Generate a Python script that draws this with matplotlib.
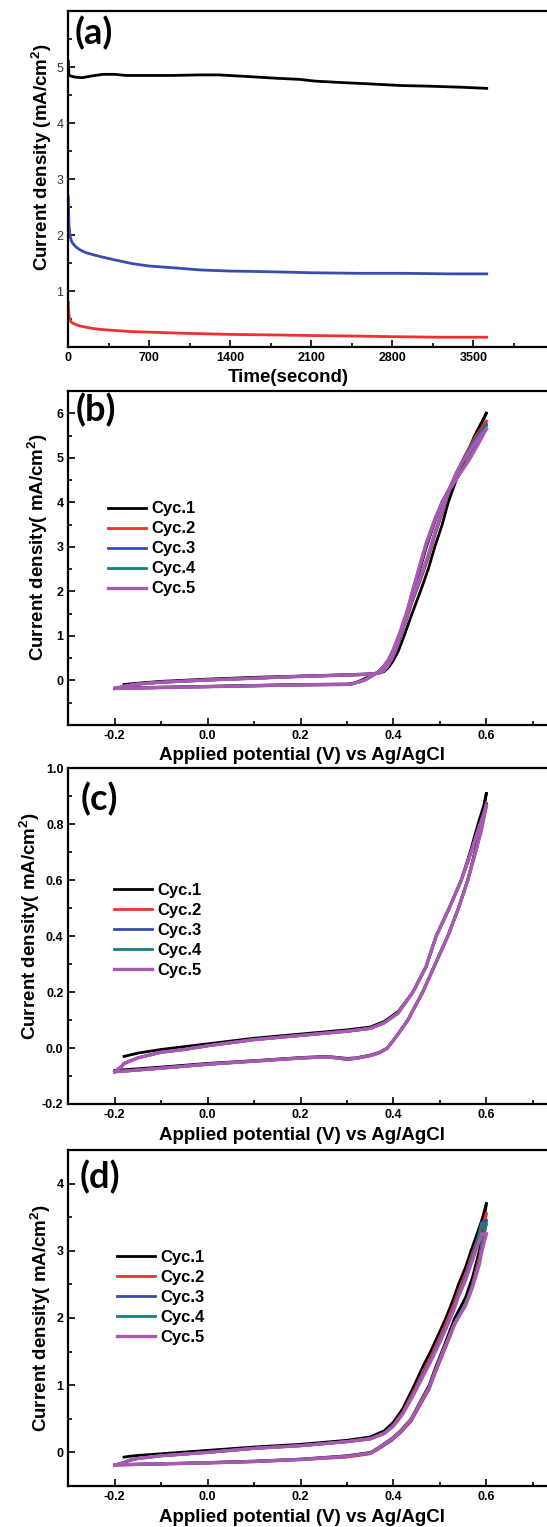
import matplotlib

matplotlib.use("Agg")
import matplotlib.pyplot as plt
import numpy as np
from matplotlib.ticker import MultipleLocator

plt.rcParams["font.family"] = ["Liberation Sans", "DejaVu Sans"]
plt.rcParams["mathtext.fontset"] = "custom"
plt.rcParams["mathtext.rm"] = "Liberation Sans:bold"
plt.rcParams["mathtext.bf"] = "Liberation Sans:bold"
plt.rcParams["axes.unicode_minus"] = False

# ---- (a) chronoamperometry ----
t_black = [0, 5, 20, 60, 120, 200, 300, 400, 500, 700, 900, 1138, 1300, 1556, 1800,
           2000, 2126, 2300, 2600, 2876, 3100, 3400, 3616]
j_black = [5.1, 4.86, 4.84, 4.82, 4.81, 4.84, 4.87, 4.87, 4.85, 4.85, 4.85, 4.86, 4.86,
           4.83, 4.80, 4.78, 4.75, 4.73, 4.70, 4.67, 4.66, 4.64, 4.62]
t_blue = [0, 5, 15, 30, 60, 100, 150, 200, 274, 400, 560, 700, 900, 1138, 1400, 1700,
          2100, 2500, 2900, 3300, 3616]
j_blue = [2.7, 2.2, 1.98, 1.88, 1.80, 1.74, 1.69, 1.66, 1.62, 1.56, 1.49, 1.45, 1.42,
          1.38, 1.36, 1.35, 1.33, 1.32, 1.32, 1.31, 1.31]
t_red = [0, 5, 15, 30, 60, 100, 200, 274, 400, 550, 700, 1000, 1400, 1800, 2100, 2500,
         2800, 3200, 3616]
j_red = [0.8, 0.58, 0.48, 0.44, 0.41, 0.38, 0.34, 0.32, 0.30, 0.28, 0.27, 0.25, 0.23,
         0.22, 0.21, 0.20, 0.19, 0.18, 0.18]

cycle_labels = ["Cyc.1", "Cyc.2", "Cyc.3", "Cyc.4", "Cyc.5"]
cycle_colors = ["#000000", "#ee3030", "#3a4cb0", "#148079", "#a85ab2"]

# ---- (b) CV ----
b_E_fwd = [-0.2, -0.18, -0.15, -0.1, 0.0, 0.1, 0.2, 0.3, 0.35, 0.37, 0.38, 0.39, 0.40,
           0.41, 0.423, 0.44, 0.458, 0.475, 0.489, 0.505, 0.518, 0.535, 0.554, 0.575, 0.6]
b_j_fwd = [
    [np.nan, -0.09, -0.06, -0.02, 0.03, 0.07, 0.10, 0.13, 0.15, 0.17, 0.2, 0.3, 0.45,
     0.65, 1.0, 1.5, 2.0, 2.5, 3.0, 3.5, 4.0, 4.5, 5.0, 5.5, 6.0],
    [-0.18, -0.13, -0.08, -0.04, 0.01, 0.05, 0.09, 0.12, 0.14, 0.17, 0.22, 0.35, 0.55,
     0.8, 1.2, 1.75, 2.25, 2.75, 3.25, 3.75, 4.2, 4.65, 5.05, 5.45, 5.82],
    [-0.18, -0.13, -0.08, -0.04, 0.01, 0.05, 0.09, 0.12, 0.14, 0.17, 0.22, 0.36, 0.56,
     0.82, 1.22, 1.78, 2.28, 2.78, 3.28, 3.78, 4.22, 4.65, 5.03, 5.4, 5.75],
    [-0.18, -0.13, -0.08, -0.04, 0.01, 0.05, 0.09, 0.12, 0.14, 0.17, 0.22, 0.36, 0.57,
     0.83, 1.23, 1.8, 2.3, 2.8, 3.3, 3.8, 4.23, 4.65, 5.02, 5.38, 5.72],
    [-0.18, -0.13, -0.08, -0.04, 0.01, 0.05, 0.09, 0.12, 0.14, 0.17, 0.23, 0.37, 0.58,
     0.85, 1.25, 1.82, 2.32, 2.82, 3.32, 3.82, 4.25, 4.65, 5.0, 5.33, 5.65],
]
b_E_rev = [0.6, 0.58, 0.56, 0.54, 0.52, 0.504, 0.49, 0.471, 0.457, 0.443, 0.43, 0.414,
           0.40, 0.39, 0.378, 0.365, 0.35, 0.34, 0.33, 0.32, 0.31, 0.3, 0.2, 0.1, 0.0,
           -0.1, -0.2]
b_j_rev = [
    [6.0, 5.55, 5.1, 4.7, 4.3, 4.0, 3.6, 3.0, 2.5, 2.0, 1.5, 1.0, 0.65, 0.45, 0.3, 0.18,
     0.1, 0.05, 0.0, -0.04, -0.07, -0.08, -0.09, -0.11, -0.13, -0.15, -0.17],
    [5.82, 5.35, 4.95, 4.6, 4.25, 3.95, 3.6, 3.05, 2.55, 2.05, 1.55, 1.05, 0.68, 0.47,
     0.3, 0.17, 0.08, 0.02, -0.02, -0.05, -0.08, -0.09, -0.1, -0.12, -0.14, -0.16, -0.18],
    [5.75, 5.32, 4.93, 4.6, 4.26, 3.96, 3.62, 3.07, 2.57, 2.06, 1.56, 1.06, 0.69, 0.47,
     0.3, 0.17, 0.08, 0.02, -0.02, -0.05, -0.08, -0.09, -0.1, -0.12, -0.14, -0.16, -0.18],
    [5.72, 5.3, 4.92, 4.6, 4.27, 3.97, 3.63, 3.08, 2.58, 2.07, 1.57, 1.07, 0.7, 0.48,
     0.3, 0.17, 0.08, 0.02, -0.02, -0.05, -0.08, -0.09, -0.1, -0.12, -0.14, -0.16, -0.18],
    [5.65, 5.26, 4.9, 4.6, 4.28, 3.98, 3.65, 3.1, 2.6, 2.08, 1.58, 1.08, 0.7, 0.48,
     0.3, 0.17, 0.08, 0.02, -0.02, -0.05, -0.08, -0.09, -0.1, -0.12, -0.14, -0.16, -0.18],
]

# ---- (c) CV ----
c_E_fwd = [-0.2, -0.185, -0.18, -0.15, -0.1, -0.05, 0.0, 0.1, 0.2, 0.3, 0.35, 0.38, 0.41,
           0.442, 0.47, 0.492, 0.52, 0.546, 0.565, 0.582, 0.595, 0.6]
c_j_fwd = [
    [np.nan, np.nan, -0.03, -0.018, -0.005, 0.005, 0.015, 0.035, 0.05, 0.065, 0.075,
     0.095, 0.13, 0.2, 0.29, 0.4, 0.5, 0.6, 0.7, 0.8, 0.87, 0.91],
    [-0.085, -0.065, -0.055, -0.035, -0.015, -0.005, 0.008, 0.03, 0.045, 0.06, 0.07,
     0.09, 0.125, 0.2, 0.29, 0.4, 0.5, 0.6, 0.69, 0.78, 0.845, 0.875],
    [-0.085, -0.065, -0.055, -0.035, -0.015, -0.005, 0.008, 0.03, 0.045, 0.06, 0.07,
     0.09, 0.125, 0.2, 0.29, 0.4, 0.5, 0.6, 0.69, 0.78, 0.84, 0.87],
    [-0.085, -0.065, -0.055, -0.035, -0.015, -0.005, 0.008, 0.03, 0.045, 0.06, 0.07,
     0.09, 0.125, 0.2, 0.29, 0.4, 0.5, 0.6, 0.69, 0.78, 0.84, 0.868],
    [-0.085, -0.065, -0.055, -0.035, -0.015, -0.005, 0.008, 0.03, 0.045, 0.06, 0.07,
     0.09, 0.125, 0.2, 0.29, 0.4, 0.5, 0.6, 0.69, 0.775, 0.835, 0.865],
]
c_E_rev = [0.6, 0.589, 0.575, 0.56, 0.54, 0.517, 0.49, 0.463, 0.431, 0.41, 0.387, 0.37,
           0.35, 0.32, 0.3, 0.27, 0.25, 0.2, 0.1, 0.0, -0.1, -0.2]
c_j_rev = [
    [0.91, 0.8, 0.7, 0.6, 0.5, 0.4, 0.3, 0.2, 0.1, 0.05, 0.0, -0.015, -0.025, -0.035,
     -0.037, -0.032, -0.03, -0.034, -0.045, -0.055, -0.068, -0.08],
    [0.875, 0.78, 0.69, 0.6, 0.5, 0.4, 0.3, 0.2, 0.1, 0.05, 0.0, -0.017, -0.027, -0.037,
     -0.04, -0.034, -0.032, -0.036, -0.047, -0.058, -0.072, -0.085],
    [0.87, 0.78, 0.69, 0.6, 0.5, 0.4, 0.3, 0.2, 0.1, 0.05, 0.0, -0.017, -0.027, -0.037,
     -0.04, -0.034, -0.032, -0.036, -0.047, -0.058, -0.072, -0.085],
    [0.868, 0.78, 0.69, 0.6, 0.5, 0.4, 0.3, 0.2, 0.1, 0.05, 0.0, -0.017, -0.027, -0.037,
     -0.04, -0.034, -0.032, -0.036, -0.047, -0.058, -0.072, -0.085],
    [0.865, 0.775, 0.69, 0.6, 0.5, 0.4, 0.3, 0.2, 0.1, 0.05, 0.0, -0.017, -0.027, -0.037,
     -0.04, -0.034, -0.032, -0.036, -0.047, -0.058, -0.072, -0.085],
]

# ---- (d) CV ----
d_E_fwd = [-0.2, -0.18, -0.17, -0.15, -0.1, 0.0, 0.1, 0.2, 0.3, 0.35, 0.38, 0.40, 0.42,
           0.445, 0.465, 0.48, 0.5, 0.513, 0.53, 0.54, 0.555, 0.567, 0.58, 0.59, 0.6]
d_j_fwd = [
    [np.nan, -0.07, -0.06, -0.045, -0.02, 0.03, 0.08, 0.12, 0.18, 0.23, 0.32, 0.45, 0.65,
     1.0, 1.3, 1.5, 1.8, 2.0, 2.3, 2.5, 2.75, 3.0, 3.25, 3.45, 3.7],
    [-0.19, -0.15, -0.12, -0.09, -0.05, 0.0, 0.06, 0.1, 0.16, 0.21, 0.29, 0.41, 0.6,
     0.93, 1.22, 1.42, 1.72, 1.92, 2.2, 2.4, 2.65, 2.9, 3.15, 3.35, 3.55],
    [-0.19, -0.15, -0.12, -0.09, -0.05, 0.0, 0.06, 0.1, 0.16, 0.2, 0.28, 0.4, 0.58,
     0.9, 1.18, 1.38, 1.67, 1.87, 2.15, 2.35, 2.6, 2.85, 3.12, 3.42, 3.45],
    [-0.19, -0.15, -0.12, -0.09, -0.05, 0.0, 0.06, 0.1, 0.16, 0.2, 0.28, 0.4, 0.58,
     0.89, 1.17, 1.37, 1.66, 1.86, 2.14, 2.34, 2.59, 2.84, 3.1, 3.4, 3.4],
    [-0.19, -0.15, -0.12, -0.09, -0.05, 0.0, 0.06, 0.1, 0.16, 0.2, 0.28, 0.39, 0.57,
     0.88, 1.15, 1.35, 1.64, 1.84, 2.12, 2.32, 2.56, 2.8, 3.05, 3.25, 3.25],
]
d_E_rev = [0.6, 0.59, 0.585, 0.57, 0.555, 0.532, 0.51, 0.49, 0.477, 0.455, 0.438, 0.415,
           0.395, 0.37, 0.351, 0.3, 0.2, 0.1, 0.0, -0.1, -0.2]
d_j_rev = [
    [3.7, 3.2, 3.0, 2.6, 2.3, 2.0, 1.6, 1.25, 1.0, 0.72, 0.5, 0.32, 0.2, 0.08, 0.0,
     -0.05, -0.1, -0.13, -0.15, -0.17, -0.18],
    [3.55, 3.1, 2.9, 2.5, 2.2, 1.9, 1.52, 1.18, 0.94, 0.67, 0.46, 0.29, 0.17, 0.06,
     -0.02, -0.07, -0.11, -0.14, -0.16, -0.175, -0.19],
    [3.45, 3.05, 2.85, 2.48, 2.2, 1.92, 1.55, 1.2, 0.96, 0.69, 0.48, 0.3, 0.18, 0.07,
     -0.01, -0.06, -0.105, -0.135, -0.155, -0.17, -0.185],
    [3.4, 3.02, 2.83, 2.47, 2.2, 1.92, 1.55, 1.2, 0.96, 0.69, 0.48, 0.3, 0.18, 0.07,
     -0.01, -0.06, -0.105, -0.135, -0.155, -0.17, -0.185],
    [3.25, 2.98, 2.8, 2.45, 2.18, 1.92, 1.56, 1.21, 0.97, 0.7, 0.49, 0.31, 0.19, 0.08,
     -0.01, -0.06, -0.105, -0.135, -0.155, -0.17, -0.185],
]

W, H = 547, 1527
fig = plt.figure(figsize=(W / 100, H / 100), dpi=100)


def add_axes(left, right, top, bottom):
    return fig.add_axes([left / W, 1 - bottom / H, (right - left) / W, (bottom - top) / H])


def style_axes(ax, bold_y=True):
    for sp in ax.spines.values():
        sp.set_linewidth(1.6)
    ax.tick_params(which="both", direction="in", width=1.2, top=False, right=False)
    ax.tick_params(which="major", length=5)
    ax.tick_params(which="minor", length=3)
    for lab in ax.get_xticklabels():
        lab.set_fontweight("bold")
        lab.set_fontsize(9)
    for lab in ax.get_yticklabels():
        lab.set_fontweight("bold" if bold_y else "normal")
        lab.set_fontsize(9)
        if not bold_y:
            lab.set_color("#333333")


def panel_label(ax, text, x, y):
    ax.text(x, y, text, transform=ax.transAxes, family="Lato", fontweight="bold",
            fontsize=26, ha="left", va="top")


def label_text(ax, x, y, text, rot=0):
    ax.text(x, y, text, transform=ax.transAxes, ha="center", va="center",
            rotation=rot, fontsize=13.5, fontweight="bold")


# (a)
ax = add_axes(68.3, 554.3, 11, 347.3)
ax.plot(t_black, j_black, color="#000000", lw=2.0)
ax.plot(t_blue, j_blue, color="#3a4cb0", lw=2.0)
ax.plot(t_red, j_red, color="#ee3030", lw=2.0)
ax.set_xlim(0, 4200)
ax.set_ylim(0, 6)
ax.set_xticks([0, 700, 1400, 2100, 2800, 3500])
ax.xaxis.set_minor_locator(MultipleLocator(350))
ax.set_yticks([1, 2, 3, 4, 5])
ax.yaxis.set_minor_locator(MultipleLocator(0.5))
style_axes(ax, bold_y=False)
panel_label(ax, "(a)", 0.014, 0.985)
label_text(ax, (288 - 68.3) / 486, (347.3 - 378) / 336.3, "Time(second)")
label_text(ax, (42 - 68.3) / 486, 0.566, r"Current density (mA/cm$^{2}$)", rot=90)


def cv_panel(top, bottom, E_fwd, j_fwd, E_rev, j_rev, ylim, ymaj, ymin, label,
             lab_xy, leg_y, leg_x, ylab_x, ylab_y):
    ax = add_axes(68.3, 556, top, bottom)
    for i in range(5):
        lw = 2.4 if i == 4 else 2.0
        ax.plot(E_fwd, j_fwd[i], color=cycle_colors[i], lw=lw, label=cycle_labels[i])
        ax.plot(E_rev, j_rev[i], color=cycle_colors[i], lw=lw)
    ax.set_xlim(-0.3, 0.75)
    ax.set_ylim(*ylim)
    ax.set_xticks([-0.2, 0.0, 0.2, 0.4, 0.6])
    ax.set_xticklabels(["-0.2", "0.0", "0.2", "0.4", "0.6"])
    ax.xaxis.set_minor_locator(MultipleLocator(0.1))
    ax.set_yticks(ymaj)
    ax.yaxis.set_minor_locator(MultipleLocator(ymin))
    style_axes(ax)
    panel_label(ax, label, *lab_xy)
    hpx = bottom - top
    wpx = 556 - 68.3
    label_text(ax, (302 - 68.3) / wpx, -31 / hpx, "Applied potential (V) vs Ag/AgCl")
    label_text(ax, (ylab_x - 68.3) / wpx, ylab_y, r"Current density( mA/cm$^{2}$)", rot=90)
    ax.legend(loc="center left", bbox_to_anchor=((leg_x - 68.3) / wpx, leg_y),
              frameon=False, prop={"weight": "bold", "size": 12}, handlelength=2.3,
              handletextpad=0.3, labelspacing=0.3, borderpad=0, borderaxespad=0)
    return ax


cv_panel(391, 725, b_E_fwd, b_j_fwd, b_E_rev, b_j_rev, (-1, 6.5), [0, 1, 2, 3, 4, 5, 6],
         0.5, "(b)", (0.016, 0.995), 0.527, 108, 38, 0.534)
cv_panel(768.3, 1104, c_E_fwd, c_j_fwd, c_E_rev, c_j_rev, (-0.2, 1.0),
         [-0.2, 0.0, 0.2, 0.4, 0.6, 0.8, 1.0], 0.1, "(c)", (0.026, 0.96), 0.516, 114, 30,
         0.529)
cv_panel(1150, 1486, d_E_fwd, d_j_fwd, d_E_rev, d_j_rev, (-0.5, 4.5), [0, 1, 2, 3, 4],
         0.5, "(d)", (0.023, 0.97), 0.562, 117, 41, 0.4985)

fig.savefig("out.png", dpi=100)
